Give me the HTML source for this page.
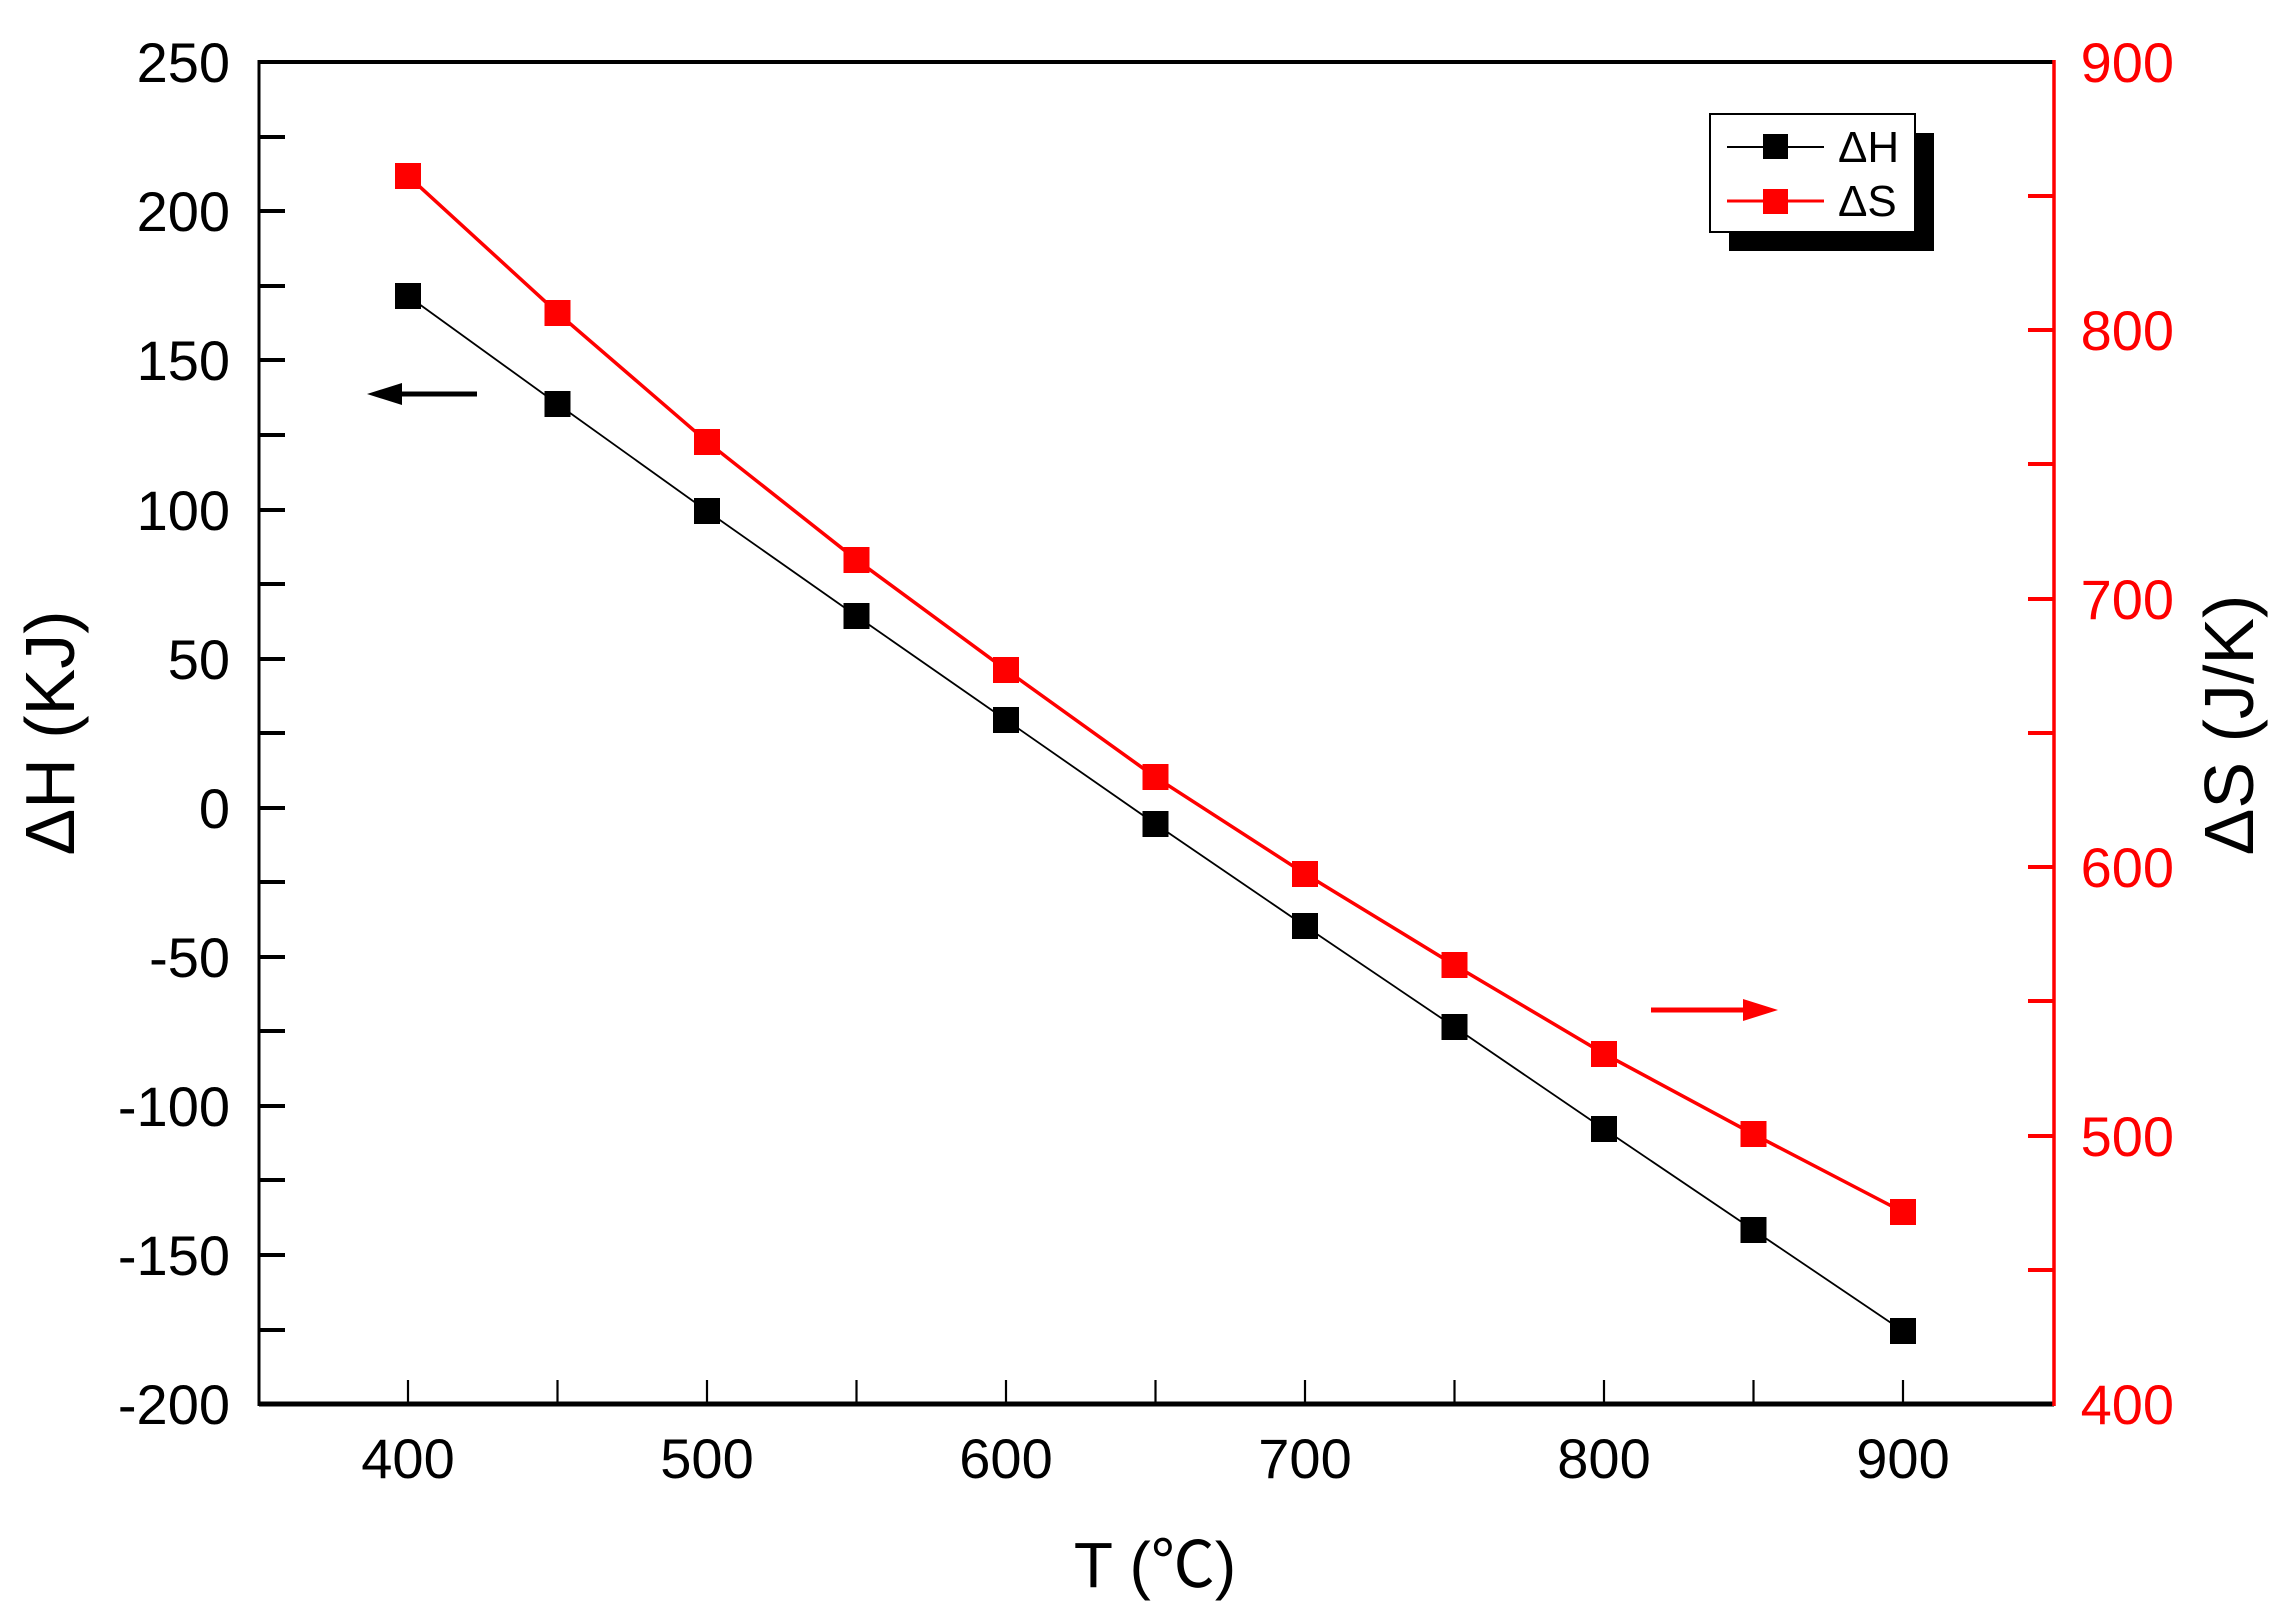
<!DOCTYPE html>
<html><head><meta charset="utf-8"><style>body{margin:0;background:#fff}svg{display:block}</style></head><body>
<svg width="2292" height="1624" viewBox="0 0 2292 1624" xmlns="http://www.w3.org/2000/svg" font-family="Liberation Sans, Arial, sans-serif">
<rect width="2292" height="1624" fill="#fff"/>
<!-- H line -->
<polyline fill="none" stroke="#000" stroke-width="1.8" points="408,296 557.5,404 707,511 856.5,616 1006,720 1155.5,824 1305,926 1454.5,1027 1604,1129 1753.5,1230 1903,1331"/>
<!-- S line -->
<polyline fill="none" stroke="#f00" stroke-width="3.5" points="408,175.9 557.5,312.8 707,441.7 856.5,559.8 1006,669.8 1155.5,777.2 1305,873.8 1454.5,965.1 1604,1053.7 1753.5,1134.2 1903,1212"/>
<g fill="#000">
<rect x="395" y="283" width="26" height="26"/>
<rect x="544.5" y="391" width="26" height="26"/>
<rect x="694" y="498" width="26" height="26"/>
<rect x="843.5" y="603" width="26" height="26"/>
<rect x="993" y="707" width="26" height="26"/>
<rect x="1142.5" y="811" width="26" height="26"/>
<rect x="1292" y="913" width="26" height="26"/>
<rect x="1441.5" y="1014" width="26" height="26"/>
<rect x="1591" y="1116" width="26" height="26"/>
<rect x="1740.5" y="1217" width="26" height="26"/>
<rect x="1890" y="1318" width="26" height="26"/>
</g>
<g fill="#f00">
<rect x="395" y="163" width="26" height="26"/>
<rect x="544.5" y="300" width="26" height="26"/>
<rect x="694" y="429" width="26" height="26"/>
<rect x="843.5" y="547" width="26" height="26"/>
<rect x="993" y="657" width="26" height="26"/>
<rect x="1142.5" y="764" width="26" height="26"/>
<rect x="1292" y="861" width="26" height="26"/>
<rect x="1441.5" y="952" width="26" height="26"/>
<rect x="1591" y="1041" width="26" height="26"/>
<rect x="1740.5" y="1121" width="26" height="26"/>
<rect x="1890" y="1199" width="26" height="26"/>
</g>
<!-- axes -->
<line x1="259" y1="62" x2="2054" y2="62" stroke="#000" stroke-width="4"/>
<line x1="259" y1="60" x2="259" y2="1406" stroke="#000" stroke-width="3"/>
<line x1="259" y1="1404" x2="2054" y2="1404" stroke="#000" stroke-width="5"/>
<line x1="2054" y1="60" x2="2054" y2="1406" stroke="#f00" stroke-width="3.5"/>
<g stroke="#000" stroke-width="4">
<line x1="259" y1="137" x2="285" y2="137"/><line x1="259" y1="211" x2="285" y2="211"/>
<line x1="259" y1="286" x2="285" y2="286"/><line x1="259" y1="360" x2="285" y2="360"/>
<line x1="259" y1="435" x2="285" y2="435"/><line x1="259" y1="510" x2="285" y2="510"/>
<line x1="259" y1="584" x2="285" y2="584"/><line x1="259" y1="659" x2="285" y2="659"/>
<line x1="259" y1="733" x2="285" y2="733"/><line x1="259" y1="808" x2="285" y2="808"/>
<line x1="259" y1="882" x2="285" y2="882"/><line x1="259" y1="957" x2="285" y2="957"/>
<line x1="259" y1="1031" x2="285" y2="1031"/><line x1="259" y1="1106" x2="285" y2="1106"/>
<line x1="259" y1="1180" x2="285" y2="1180"/><line x1="259" y1="1255" x2="285" y2="1255"/>
<line x1="259" y1="1330" x2="285" y2="1330"/>
</g>
<g stroke="#f00" stroke-width="4">
<line x1="2028" y1="196" x2="2054" y2="196"/><line x1="2028" y1="330" x2="2054" y2="330"/>
<line x1="2028" y1="464" x2="2054" y2="464"/><line x1="2028" y1="599" x2="2054" y2="599"/>
<line x1="2028" y1="733" x2="2054" y2="733"/><line x1="2028" y1="867" x2="2054" y2="867"/>
<line x1="2028" y1="1001" x2="2054" y2="1001"/><line x1="2028" y1="1136" x2="2054" y2="1136"/>
<line x1="2028" y1="1270" x2="2054" y2="1270"/>
</g>
<g stroke="#000" stroke-width="2.2">
<line x1="408" y1="1380" x2="408" y2="1404"/><line x1="557.5" y1="1380" x2="557.5" y2="1404"/>
<line x1="707" y1="1380" x2="707" y2="1404"/><line x1="856.5" y1="1380" x2="856.5" y2="1404"/>
<line x1="1006" y1="1380" x2="1006" y2="1404"/><line x1="1155.5" y1="1380" x2="1155.5" y2="1404"/>
<line x1="1305" y1="1380" x2="1305" y2="1404"/><line x1="1454.5" y1="1380" x2="1454.5" y2="1404"/>
<line x1="1604" y1="1380" x2="1604" y2="1404"/><line x1="1753.5" y1="1380" x2="1753.5" y2="1404"/>
<line x1="1903" y1="1380" x2="1903" y2="1404"/>
</g>
<!-- left labels -->
<g font-size="56" text-anchor="end" fill="#000">
<text x="230" y="82">250</text><text x="230" y="231">200</text><text x="230" y="380">150</text>
<text x="230" y="530">100</text><text x="230" y="679">50</text><text x="230" y="828">0</text>
<text x="230" y="977">-50</text><text x="230" y="1126">-100</text><text x="230" y="1275">-150</text>
<text x="230" y="1424">-200</text>
</g>
<g font-size="56" text-anchor="end" fill="#f00">
<text x="2174" y="82">900</text><text x="2174" y="350">800</text><text x="2174" y="619">700</text>
<text x="2174" y="887">600</text><text x="2174" y="1156">500</text><text x="2174" y="1424">400</text>
</g>
<g font-size="56" text-anchor="middle" fill="#000">
<text x="408" y="1478">400</text><text x="707" y="1478">500</text><text x="1006" y="1478">600</text>
<text x="1305" y="1478">700</text><text x="1604" y="1478">800</text><text x="1903" y="1478">900</text>
</g>
<text x="1155" y="1587" font-size="64" text-anchor="middle" font-family="Liberation Sans, Noto Sans CJK SC, sans-serif">T (℃)</text>
<text transform="translate(74,733) rotate(-90)" font-size="70" text-anchor="middle">ΔH (KJ)</text>
<text transform="translate(2253,725) rotate(-90)" font-size="70" text-anchor="middle">ΔS (J/K)</text>
<!-- legend -->
<rect x="1729" y="133" width="205" height="118" fill="#000"/>
<rect x="1710" y="114" width="205" height="118" fill="#fff" stroke="#000" stroke-width="2"/>
<line x1="1727" y1="147" x2="1824" y2="147" stroke="#000" stroke-width="2"/>
<rect x="1763" y="134" width="25" height="25" fill="#000"/>
<line x1="1727" y1="201" x2="1824" y2="201" stroke="#f00" stroke-width="3"/>
<rect x="1763" y="189" width="25" height="25" fill="#f00"/>
<text x="1838" y="162" font-size="44">ΔH</text>
<text x="1838" y="216" font-size="44">ΔS</text>
<!-- arrows -->
<line x1="477" y1="394" x2="395" y2="394" stroke="#000" stroke-width="5"/>
<polygon points="367,394 402,383 402,405" fill="#000"/>
<line x1="1651" y1="1010" x2="1750" y2="1010" stroke="#f00" stroke-width="5"/>
<polygon points="1778,1010 1743,999 1743,1021" fill="#f00"/>
</svg>
</body></html>
